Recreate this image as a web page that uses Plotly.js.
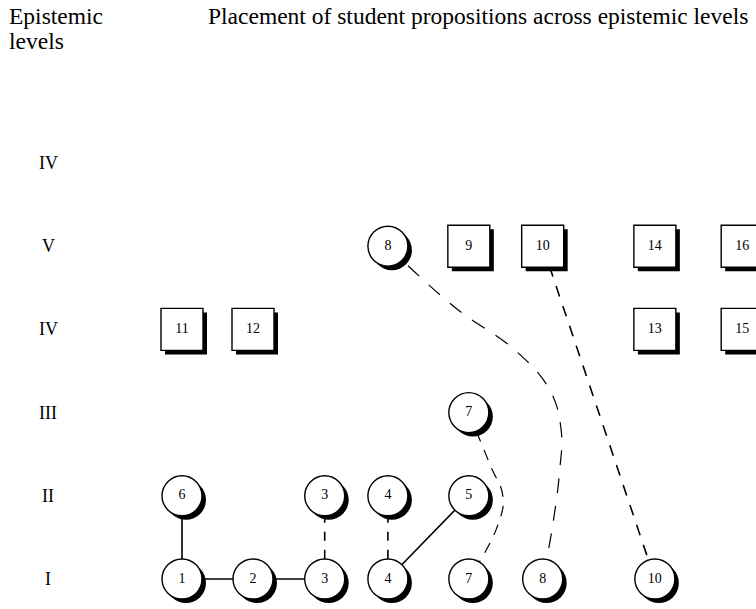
<!DOCTYPE html>
<html>
<head>
<meta charset="utf-8">
<script src="https://cdn.plot.ly/plotly-3.0.1.min.js"></script>
<style>html,body{margin:0;padding:0;background:#fff;}#chart{width:756px;height:609px;}</style>
</head>
<body>
<div id="chart"></div>
<script>
// ---- data ----
const levelLabels = ['I', 'II', 'III', 'IV', 'V', 'IV'];
const levelValues = [1, 2, 3, 4, 5, 6];
const columnValues = [1, 2, 3.01, 3.9, 5.04, 6.08, 7.66, 8.89];

const circleLabels = ['1', '2', '3', '4', '7', '8', '10', '6', '3', '4', '5', '7', '8'];
const circleColumn = [1, 2, 3, 4, 5, 6, 7, 1, 3, 4, 5, 5, 4];
const circleLevel  = [1, 1, 1, 1, 1, 1, 1, 2, 2, 2, 2, 3, 5];

const squareLabels = ['11', '12', '13', '15', '9', '10', '14', '16'];
const squareColumn = [1, 2, 7, 8, 5, 6, 7, 8];
const squareLevel  = [4, 4, 4, 4, 5, 5, 5, 5];

// solid links: [column, level] -> [column, level]
const solidLinks = [
  [[1, 2], [1, 1]],
  [[1, 1], [2, 1]],
  [[2, 1], [3, 1]],
  [[5, 2], [4, 1]]
];
// dashed straight links
const dashedLinks = [
  [[3, 2], [3, 1]],
  [[4, 2], [4, 1]],
  [[6, 5], [7, 1]]
];
// dashed curved links (waypoints)
const curve7x = [5.04, 5.34, 5.52, 5.44, 5.04];
const curve7y = [3, 2.37, 1.99, 1.63, 1];
const curve8x = [3.9, 4.85, 5.69, 6.18, 6.34, 6.32, 6.21, 6.08];
const curve8y = [5, 4.26, 3.75, 3.27, 2.79, 2.31, 1.59, 1];

const headerLines = ['Epistemic', 'levels'];
const chartTitle = 'Placement of student propositions across epistemic levels';

// ---- drawing ----
const W = 756, H = 609;
const pxPerX = 71, pxPerY = 83.2;
const x0 = 182, y0 = 579;
const xRange = [1 - x0 / pxPerX, 1 + (W - x0) / pxPerX];
const yRange = [1 - (H - y0) / pxPerY, 1 + y0 / pxPerY];
const serif = 'Liberation Serif, Times New Roman, serif';

const col = i => columnValues[i - 1];
const traces = [];

solidLinks.forEach(l => {
  traces.push({type: 'scatter', mode: 'lines', x: [col(l[0][0]), col(l[1][0])], y: [l[0][1], l[1][1]],
    line: {color: '#000', width: 1.6}, hoverinfo: 'skip'});
});
dashedLinks.forEach((l, k) => {
  traces.push({type: 'scatter', mode: 'lines', x: [col(l[0][0]), col(l[1][0])], y: [l[0][1], l[1][1]],
    line: {color: '#000', width: 1.6, dash: k < 2 ? '9px,9px' : '11px,10px'}, hoverinfo: 'skip'});
});
traces.push({type: 'scatter', mode: 'lines', x: curve7x, y: curve7y,
  line: {color: '#000', width: 1.2, shape: 'spline', smoothing: 1.2, dash: '11px,9px'}, hoverinfo: 'skip'});
traces.push({type: 'scatter', mode: 'lines', x: curve8x, y: curve8y,
  line: {color: '#000', width: 1.2, shape: 'spline', smoothing: 1.2, dash: '15px,13px'}, hoverinfo: 'skip'});

const sdx = 4 / pxPerX, sdy = 4 / pxPerY;
const cx = circleColumn.map(col), cy = circleLevel;
const sx = squareColumn.map(col), sy = squareLevel;

// shadows
traces.push({type: 'scatter', mode: 'markers', x: cx.map(v => v + sdx), y: cy.map(v => v - sdy),
  marker: {symbol: 'circle', size: 40, color: '#000', line: {width: 0}}, hoverinfo: 'skip'});
traces.push({type: 'scatter', mode: 'markers', x: sx.map(v => v + sdx), y: sy.map(v => v - sdy),
  marker: {symbol: 'square', size: 42, color: '#000', line: {width: 0}}, hoverinfo: 'skip'});
// nodes
traces.push({type: 'scatter', mode: 'markers+text', x: cx, y: cy, text: circleLabels,
  textposition: 'middle center', textfont: {family: serif, size: 14, color: '#000'},
  marker: {symbol: 'circle', size: 40, color: '#fff', line: {color: '#000', width: 1.4}}, hoverinfo: 'skip'});
traces.push({type: 'scatter', mode: 'markers+text', x: sx, y: sy, text: squareLabels,
  textposition: 'middle center', textfont: {family: serif, size: 14, color: '#000'},
  marker: {symbol: 'square', size: 42, color: '#fff', line: {color: '#000', width: 1.4}}, hoverinfo: 'skip'});

const annotations = levelLabels.map((t, i) => ({
  x: 1 - (x0 - 48) / pxPerX, y: levelValues[i], xref: 'x', yref: 'y', text: t, showarrow: false,
  xanchor: 'center', yanchor: 'middle', font: {family: serif, size: 18, color: '#000'}
}));
headerLines.forEach((t, i) => annotations.push({x: 7 / W, y: 1 - (1 + 25 * i) / H, xref: 'paper', yref: 'paper',
  xanchor: 'left', yanchor: 'top', align: 'left', showarrow: false, text: t,
  font: {family: serif, size: 23.5, color: '#000'}}));
annotations.push({x: 206 / W, y: 1 - 1 / H, xref: 'paper', yref: 'paper', xanchor: 'left', yanchor: 'top',
  align: 'left', showarrow: false, text: chartTitle,
  font: {family: serif, size: 23.5, color: '#000'}});

const layout = {
  width: W, height: H, margin: {l: 0, r: 0, t: 0, b: 0},
  paper_bgcolor: '#fff', plot_bgcolor: '#fff', showlegend: false,
  xaxis: {range: xRange, visible: false, fixedrange: true},
  yaxis: {range: yRange, visible: false, fixedrange: true},
  annotations: annotations
};
Plotly.newPlot('chart', traces, layout, {displayModeBar: false, staticPlot: true});
</script>
</body>
</html>
